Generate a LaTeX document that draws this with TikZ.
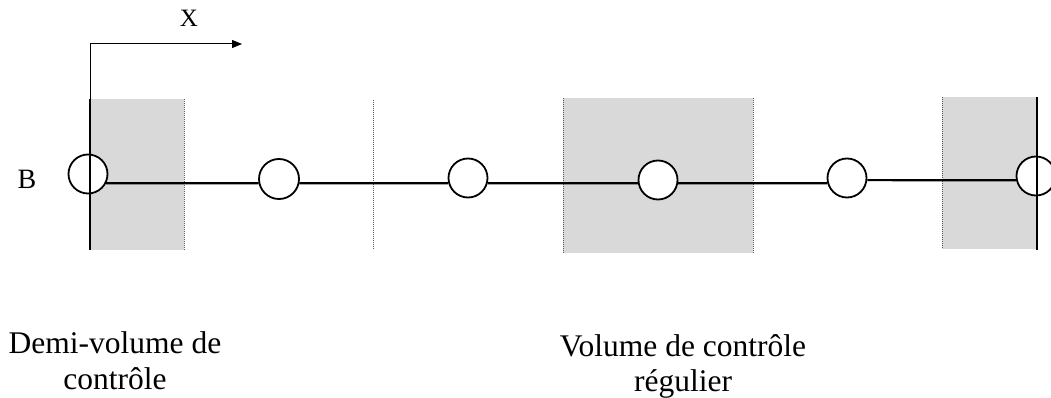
\documentclass[tikz,border=0pt]{standalone}
\usepackage{fontspec}
\setmainfont{Liberation Serif}
\usetikzlibrary{arrows.meta}
\definecolor{cvgray}{RGB}{217,217,217}
\definecolor{dotgray}{RGB}{90,90,90}
\tikzset{
  node/.style={circle, draw=black, line width=1.8pt, fill=white, minimum size=39pt, inner sep=0pt},
  conn/.style={draw=black, line width=2.2pt},
  bound/.style={draw=black, line width=2.2pt},
  face/.style={draw=dotgray, line width=1pt, dash pattern=on 1pt off 1pt},
  cv/.style={fill=cvgray, draw=none},
  axis/.style={draw=black, line width=1pt},
  lbl/.style={font=\fontsize{31.5}{36}\selectfont, inner sep=0pt, anchor=base},
}
\begin{document}
\begin{tikzpicture}[x=1pt,y=-1pt]
\useasboundingbox (0,0) rectangle (1051,398);
% control volumes
\fill[cv] (90,99) rectangle (184,250);
\fill[cv] (563,98) rectangle (753,253);
\fill[cv] (942,97) rectangle (1037,249);
% faces (dotted)
\draw[face] (184,99) -- (184,250);
\draw[face] (373,100) -- (373,250);
\draw[face] (563,98) -- (563,253);
\draw[face] (753,98) -- (753,253);
\draw[face] (942,97) -- (942,249);
% boundaries
\coordinate (bl1) at (90,99);
\coordinate (bl2) at (90,250);
\coordinate (br1) at (1037,97);
\coordinate (br2) at (1037,250);
% axis
\coordinate (axc) at (90,44);
\coordinate (axe) at (242,44);
\draw[axis] (bl1) -- (axc);
\draw[axis, -{Triangle[length=10pt,width=8pt]}] (axc) -- (axe);
\node[font=\fontsize{25}{30}\selectfont, inner sep=0pt] (xl) at (189,18) {X};
% nodes
\node[node] (c1) at (88,174) {};
\node[node, minimum size=40pt] (c2) at (279,179) {};
\node[node] (c3) at (468,178) {};
\node[node] (c4) at (658,180) {};
\node[node] (c5) at (847,178) {};
\node[node] (c6) at (1036,176) {};
% connectors
\draw[conn] (c1.-27) -- (c2.192);
\draw[conn] (c2.-12) -- (c3.195);
\draw[conn] (c3.-15) -- (c4.189);
\draw[conn] (c4.-9) -- (c5.195);
\draw[conn] (c5.-6) -- (c6.192);
\draw[bound] (bl1) -- (bl2);
\draw[bound] (br1) -- (br2);
\node[font=\fontsize{28}{32}\selectfont, inner sep=0pt] (bl) at (27,179) {B};
% labels
\node[lbl] (d1) at (115,353) {Demi-volume de};
\node[lbl] (d2) at (115,389) {contrôle};
\node[lbl] (v1) at (683,356) {Volume de contrôle};
\node[lbl] (v2) at (683,391) {régulier};
\end{tikzpicture}
\end{document}
